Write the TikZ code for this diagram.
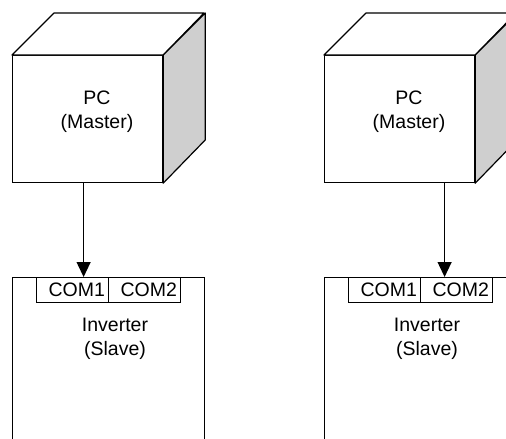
\documentclass[tikz,border=0pt]{standalone}
\usepackage{fontspec}
\setmainfont{Liberation Sans}
\usetikzlibrary{arrows.meta,calc}
\begin{document}
\begin{tikzpicture}[x=1pt,y=-1pt,line width=1.2pt,
  front/.style={draw,fill=white,minimum width=150pt,minimum height=127pt,anchor=north west,inner sep=0pt},
  face/.style={draw,line join=round},
  side/.style={face,fill=black!19},
  inv/.style={draw,minimum width=192pt,minimum height=200pt,anchor=north west,inner sep=0pt},
  combox/.style={draw,minimum width=72pt,minimum height=25pt,anchor=north west,inner sep=0pt},
  lbl/.style={font=\fontsize{19.5}{24}\selectfont,align=center,inner sep=0pt},
  comlbl/.style={font=\fontsize{19.5}{24}\selectfont,anchor=west,inner sep=0pt},
  conn/.style={-{Triangle[length=15pt,width=14pt]}}]
\useasboundingbox (0,0) rectangle (506,439);
\clip (0,0) rectangle (506,439);
\foreach \dx/\n/\ax/\ay in {0/1/-4/11, 312/2/45/-12}{
  \begin{scope}[xshift=\dx pt]
  % cube
  \node[front] (pc\n) at (12,55) {};
  \draw[face,fill=white] (pc\n.north west) -- ++(42,-42) -- ++(150,0) -- (pc\n.north east) -- cycle;
  \draw[side] (pc\n.north east) -- ++(42,-42) -- ++(0,127) -- (pc\n.south east) -- cycle;
  \node[lbl] (pct\n) at (97,112) {PC\\(Master)};
  % inverter
  \node[inv] (inv\n) at (12,277) {};
  \node[combox] (com\n1) at (36,277) {};
  \node[combox] (com\n2) at (108,277) {};
  \begin{scope}
    \clip (com\n1.north west) rectangle (com\n1.south east);
    \node[comlbl] (c\n a) at (48,290) {COM1};
  \end{scope}
  \begin{scope}
    \clip (com\n2.north west) rectangle (com\n2.south east);
    \node[comlbl] (c\n b) at (120,290) {COM2};
  \end{scope}
  \node[lbl] (invt\n) at (115,339) {Inverter\\(Slave)};
  \end{scope}
}
\draw[conn] ([xshift=-4pt]pc1.south) -- ([xshift=11pt]com11.north);
\draw[conn] ([xshift=45pt]pc2.south) -- ([xshift=-12pt]com22.north);
\end{tikzpicture}
\end{document}
